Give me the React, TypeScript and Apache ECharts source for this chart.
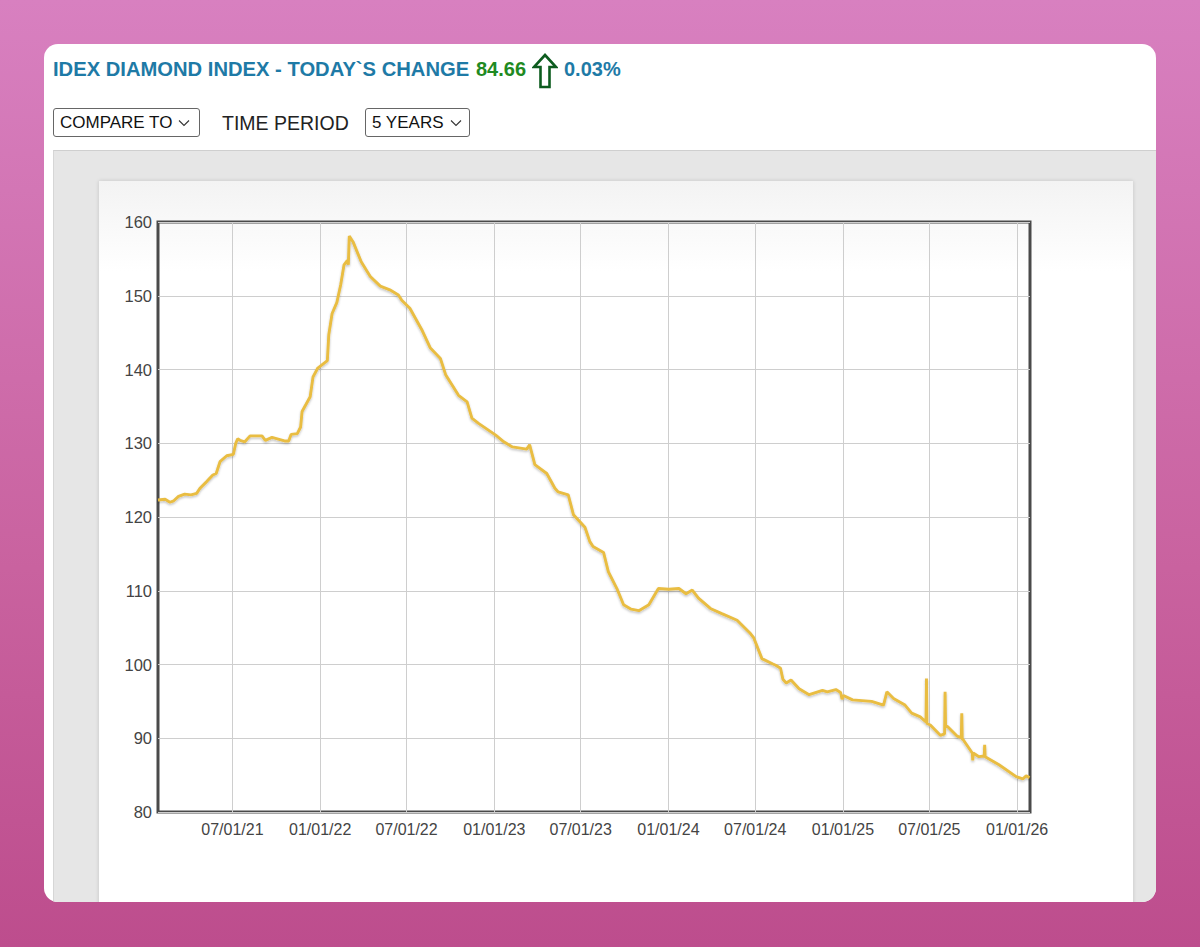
import React, { useEffect, useRef } from "react";
import * as echarts from "echarts";

// ---- data ----
const tickLabels = [
  "07/01/21", "01/01/22", "07/01/22", "01/01/23", "07/01/23",
  "01/01/24", "07/01/24", "01/01/25", "07/01/25", "01/01/26",
];
const axisStart = "2021-01-26";
const axisEnd = "2026-01-28";
const yMin = 80;
const yMax = 160;
const yStep = 10;

const dates = [
  "2021-01-26", "2021-02-10", "2021-02-20", "2021-02-28", "2021-03-10", "2021-03-23",
  "2021-04-05", "2021-04-17", "2021-04-24", "2021-05-08", "2021-05-21", "2021-05-28",
  "2021-06-05", "2021-06-19", "2021-07-03", "2021-07-08", "2021-07-12", "2021-07-17",
  "2021-07-27", "2021-08-07", "2021-09-01", "2021-09-08", "2021-09-22", "2021-10-20",
  "2021-10-27", "2021-11-01", "2021-11-14", "2021-11-21", "2021-11-24", "2021-12-11",
  "2021-12-17", "2021-12-27", "2022-01-16", "2022-01-19", "2022-01-26", "2022-02-05",
  "2022-02-13", "2022-02-20", "2022-02-27", "2022-03-01", "2022-03-03", "2022-03-11",
  "2022-03-28", "2022-04-16", "2022-05-07", "2022-05-27", "2022-06-14", "2022-06-21",
  "2022-07-08", "2022-08-02", "2022-08-20", "2022-09-10", "2022-09-21", "2022-10-18",
  "2022-11-05", "2022-11-15", "2022-11-29", "2023-01-04", "2023-01-21", "2023-02-08",
  "2023-02-28", "2023-03-10", "2023-03-16", "2023-03-27", "2023-04-21", "2023-05-08",
  "2023-05-15", "2023-06-05", "2023-06-16", "2023-07-10", "2023-07-20", "2023-07-27",
  "2023-08-18", "2023-08-28", "2023-09-15", "2023-09-29", "2023-10-15", "2023-10-31",
  "2023-11-21", "2023-12-11", "2024-01-02", "2024-01-23", "2024-02-07", "2024-02-20",
  "2024-03-04", "2024-03-29", "2024-04-22", "2024-05-24", "2024-06-21", "2024-06-28",
  "2024-07-15", "2024-08-06", "2024-08-13", "2024-08-23", "2024-08-28", "2024-09-04",
  "2024-09-14", "2024-10-01", "2024-10-22", "2024-11-19", "2024-11-29", "2024-12-17",
  "2024-12-27", "2024-12-30", "2025-01-02", "2025-01-21", "2025-03-02", "2025-03-27",
  "2025-04-03", "2025-04-17", "2025-05-11", "2025-05-25", "2025-06-12", "2025-06-24",
  "2025-06-25", "2025-06-26", "2025-07-03", "2025-07-24", "2025-08-02", "2025-08-03",
  "2025-08-04", "2025-08-08", "2025-08-28", "2025-09-06", "2025-09-07", "2025-09-08",
  "2025-09-10", "2025-09-29", "2025-09-30", "2025-10-01", "2025-10-13", "2025-10-24",
  "2025-10-25", "2025-10-26", "2025-11-24", "2025-12-30", "2026-01-13", "2026-01-20",
  "2026-01-27",
];

const values = [
  122.3, 122.4, 122.0, 122.2, 122.8, 123.1,
  123.0, 123.2, 123.9, 124.8, 125.7, 125.9,
  127.5, 128.3, 128.5, 130.0, 130.6, 130.4,
  130.2, 131.0, 131.0, 130.4, 130.8, 130.3,
  130.3, 131.2, 131.3, 132.2, 134.3, 136.3,
  139.0, 140.2, 141.2, 144.7, 147.6, 149.1,
  151.5, 154.2, 154.8, 154.2, 158.1, 157.3,
  154.6, 152.6, 151.3, 150.8, 150.1, 149.4,
  148.3, 145.4, 142.9, 141.5, 139.3, 136.5,
  135.6, 133.4, 132.7, 131.1, 130.2, 129.5,
  129.3, 129.2, 129.8, 127.1, 125.9, 123.9,
  123.4, 123.0, 120.3, 118.6, 116.7, 116.0,
  115.2, 112.6, 110.3, 108.1, 107.5, 107.3,
  108.1, 110.3, 110.2, 110.3, 109.6, 110.1,
  109.0, 107.6, 106.9, 106.0, 104.2, 103.6,
  100.8, 100.1, 99.9, 99.5, 98.0, 97.5,
  97.9, 96.7, 95.9, 96.5, 96.3, 96.6,
  96.2, 95.3, 95.8, 95.2, 95.0, 94.5,
  96.3, 95.4, 94.5, 93.4, 92.9, 92.2,
  98.1, 92.0, 91.8, 90.4, 90.6, 96.3,
  91.6, 91.6, 90.3, 90.1, 93.4, 89.9,
  89.8, 88.0, 87.0, 88.0, 87.5, 87.6,
  89.1, 87.5, 86.4, 84.8, 84.5, 84.9,
  84.66,
];

// ---- helpers ----
const isoTs = (s: string) => {
  const [y, m, d] = s.split("-").map(Number);
  return Date.UTC(y, m - 1, d);
};
const labelTs = (s: string) => {
  const [m, d, y] = s.split("/").map(Number);
  return Date.UTC(2000 + y, m - 1, d);
};
const tickTs = tickLabels.map(labelTs);

const FONT = '"Liberation Sans", Arial, Helvetica, sans-serif';

function Chevron() {
  return (
    <svg width="12" height="8" viewBox="0 0 12 8" style={{ display: "block" }}>
      <polyline points="1,1.5 6,6.5 11,1.5" fill="none" stroke="#333" strokeWidth="1.1" />
    </svg>
  );
}

export default function App() {
  const ref = useRef<HTMLDivElement>(null);

  useEffect(() => {
    document.body.style.margin = "0";
    const chart = echarts.init(ref.current as HTMLDivElement, null, { renderer: "svg" });
    chart.setOption({
      animation: false,
      textStyle: { fontFamily: FONT },
      grid: {
        left: 59,
        top: 41,
        width: 872,
        height: 590,
        show: true,
        borderColor: "#4a4a4a",
        borderWidth: 3,
        backgroundColor: "transparent",
        containLabel: false,
      },
      xAxis: {
        type: "value",
        min: isoTs(axisStart),
        max: isoTs(axisEnd),
        axisLine: { show: false },
        axisTick: { show: false, customValues: tickTs },
        axisLabel: {
          customValues: tickTs,
          formatter: (v: number) => {
            const i = tickTs.indexOf(v);
            return i >= 0 ? tickLabels[i] : "";
          },
          color: "#444",
          fontSize: 16,
          fontFamily: FONT,
          margin: 9,
        },
        splitLine: { show: true, lineStyle: { color: "#cecece", width: 1 } },
      },
      yAxis: {
        type: "value",
        min: yMin,
        max: yMax,
        interval: yStep,
        axisLine: { show: false },
        axisTick: { show: false },
        axisLabel: { color: "#444", fontSize: 16.5, fontFamily: FONT, margin: 6 },
        splitLine: { show: true, lineStyle: { color: "#cecece", width: 1 } },
      },
      series: [
        {
          type: "line",
          data: dates.map((d, i) => [isoTs(d), values[i]]),
          showSymbol: false,
          symbol: "none",
          lineStyle: {
            color: "#e9bd42",
            width: 2.9,
            shadowColor: "rgba(0,0,0,0.25)",
            shadowBlur: 2,
            shadowOffsetY: 1.5,
          },
        },
      ],
    });
    return () => chart.dispose();
  }, []);

  const boxStyle: React.CSSProperties = {
    position: "absolute",
    top: 64,
    height: 29,
    boxSizing: "border-box",
    border: "1px solid #666",
    borderRadius: 3,
    background: "#fff",
    display: "flex",
    alignItems: "center",
    paddingLeft: 6,
    fontSize: 17,
    color: "#111",
  };

  return (
    <div
      style={{
        position: "fixed",
        left: 0,
        top: 0,
        width: 1200,
        height: 947,
        overflow: "hidden",
        background: "linear-gradient(180deg, #d880c0 0%, #c9629f 60%, #bd4d8d 100%)",
        fontFamily: FONT,
      }}
    >
      <div
        style={{
          position: "absolute",
          left: 44,
          top: 44,
          width: 1112,
          height: 858,
          background: "#fff",
          borderRadius: 14,
          overflow: "hidden",
        }}
      >
        {/* header */}
        <div
          style={{
            position: "absolute",
            left: 9,
            top: 15,
            fontSize: 20.2,
            lineHeight: "20px",
            fontWeight: "bold",
            color: "#1e7aa6",
            whiteSpace: "nowrap",
          }}
        >
          IDEX DIAMOND INDEX - TODAY`S CHANGE
        </div>
        <div
          style={{
            position: "absolute",
            left: 432,
            top: 15,
            fontSize: 20,
            lineHeight: "20px",
            fontWeight: "bold",
            color: "#1f8a22",
          }}
        >
          84.66
        </div>
        <svg
          width="26"
          height="36"
          viewBox="0 0 26 36"
          style={{ position: "absolute", left: 488, top: 9 }}
        >
          <polygon
            points="13,2 24,14 17.5,14 17.5,34 8.5,34 8.5,14 2,14"
            fill="#fff"
            stroke="#0d5c1f"
            strokeWidth="2.6"
            strokeLinejoin="miter"
          />
        </svg>
        <div
          style={{
            position: "absolute",
            left: 520,
            top: 15,
            fontSize: 20,
            lineHeight: "20px",
            fontWeight: "bold",
            color: "#1e7aa6",
          }}
        >
          0.03%
        </div>

        {/* controls */}
        <div style={{ ...boxStyle, left: 9, width: 147 }}>
          <span>COMPARE TO</span>
          <span style={{ marginLeft: 6 }}>
            <Chevron />
          </span>
        </div>
        <div
          style={{
            position: "absolute",
            left: 178,
            top: 68,
            fontSize: 19.5,
            lineHeight: "22px",
            color: "#222",
            whiteSpace: "nowrap",
          }}
        >
          TIME PERIOD
        </div>
        <div style={{ ...boxStyle, left: 321, width: 105 }}>
          <span>5 YEARS</span>
          <span style={{ marginLeft: 6 }}>
            <Chevron />
          </span>
        </div>

        {/* gray panel */}
        <div
          style={{
            position: "absolute",
            left: 9,
            top: 106,
            right: 0,
            bottom: 0,
            background: "#e6e6e6",
            borderTop: "1px solid #cfcfcf",
            borderLeft: "1px solid #d6d6d6",
          }}
        >
          <div
            style={{
              position: "absolute",
              left: 45,
              top: 30,
              width: 1034,
              height: 760,
              background: "linear-gradient(180deg, #f3f3f3 0px, #ffffff 90px)",
              boxShadow: "0 0 4px rgba(0,0,0,0.15)",
            }}
          >
            <div ref={ref} style={{ position: "absolute", left: 0, top: 0, width: 1034, height: 721 }} />
          </div>
        </div>
      </div>
    </div>
  );
}
